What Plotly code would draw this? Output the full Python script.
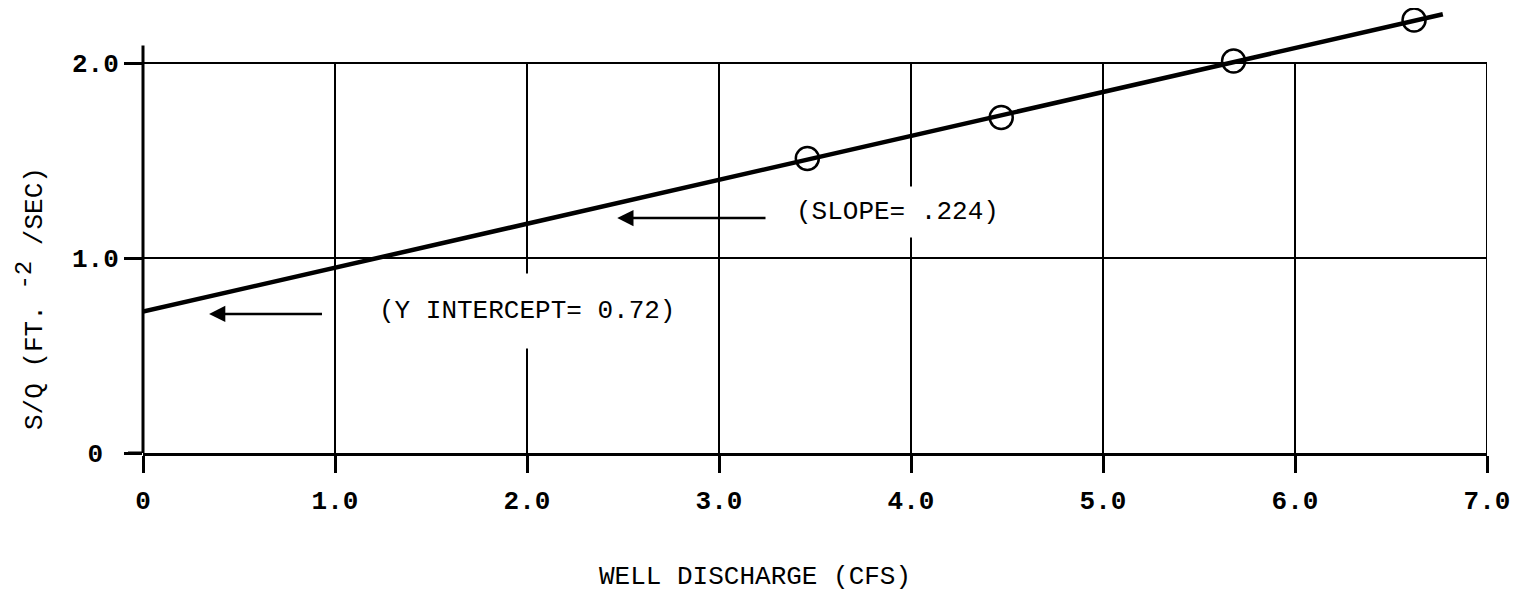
import plotly.graph_objects as go

# ---- data ----
well_discharge = [3.46, 4.47, 5.68, 6.62]      # CFS
s_over_q = [1.51, 1.72, 2.01, 2.22]            # FT^-2/SEC

fit_x = [0.0, 6.77]
fit_y = [0.725, 2.25]

x_ticks = [0, 1, 2, 3, 4, 5, 6, 7]
x_tick_labels = ["0", "1.0", "2.0", "3.0", "4.0", "5.0", "6.0", "7.0"]
y_ticks = [0, 1, 2]
y_tick_labels = ["0\u00a0", "1.0", "2.0"]

slope_label = "(SLOPE= .224)"
intercept_label = "(Y INTERCEPT= 0.72)"
x_title = "WELL DISCHARGE (CFS)"
y_title = "S/Q (FT. <sup><span style='font-size:24px'>-2</span></sup> /SEC)"

FONT = "Liberation Mono"
INK = "#000000"

# page body has an 8px margin; figure is sized to fit the 1520x599 window exactly
W, H = 1504, 583
PL, PW = 135, 1344          # plot-area left and width (x=0 .. x=7)
PT, PH = 0, 445             # plot-area top and height
PX_PER_Y = 195.0

fig = go.Figure()

fig.add_trace(go.Scatter(
    x=fit_x, y=fit_y, mode="lines",
    line=dict(color=INK, width=4.5), showlegend=False, hoverinfo="skip"))

fig.add_trace(go.Scatter(
    x=well_discharge, y=s_over_q, mode="markers",
    marker=dict(symbol="circle-open", size=23, color=INK, line=dict(width=2.5, color=INK)),
    showlegend=False, cliponaxis=False))

shapes = []
# vertical grid lines (stop at top grid value)
for xv in x_ticks[1:]:
    shapes.append(dict(type="line", xref="x", yref="y", x0=xv, x1=xv,
                       y0=y_ticks[0], y1=y_ticks[-1], line=dict(color=INK, width=2),
                       layer="below"))
# y axis line extending a little above the top grid
shapes.append(dict(type="line", xref="paper", yref="y", x0=0, x1=0,
                   y0=0, y1=2.09, line=dict(color=INK, width=3)))
# short extension of x axis line to the left
shapes.append(dict(type="line", xref="paper", yref="y", x0=-15 / PW, x1=0,
                   y0=0, y1=0, line=dict(color=INK, width=3)))

annotations = [
    dict(x=3.93, y=1.236, xref="x", yref="y", text=slope_label, showarrow=False,
         xanchor="center", yanchor="middle", bgcolor="white", borderpad=10,
         font=dict(family=FONT, size=26, color=INK)),
    dict(x=2.0, y=0.728, xref="x", yref="y", text=intercept_label, showarrow=False,
         xanchor="center", yanchor="middle", bgcolor="white", borderpad=22,
         font=dict(family=FONT, size=26, color=INK)),
    # arrows
    dict(x=2.47, y=1.205, ax=3.25, ay=1.205, xref="x", yref="y", axref="x", ayref="y",
         text="", showarrow=True, arrowhead=2, arrowsize=1.3, arrowwidth=2.5,
         arrowcolor=INK, standoff=0, startstandoff=0),
    dict(x=0.344, y=0.713, ax=0.94, ay=0.713, xref="x", yref="y", axref="x", ayref="y",
         text="", showarrow=True, arrowhead=2, arrowsize=1.3, arrowwidth=2.5,
         arrowcolor=INK, standoff=0, startstandoff=0),
    # axis titles
    dict(x=(755 - 143) / PW, y=(453 - 577) / PH, xref="paper", yref="paper",
         text=x_title, showarrow=False, xanchor="center", yanchor="middle",
         font=dict(family=FONT, size=26, color=INK)),
    dict(x=(30 - 143) / PW, y=(453 - 298) / PH, xref="paper", yref="paper",
         text=y_title, showarrow=False, textangle=-90, xanchor="center", yanchor="middle",
         font=dict(family=FONT, size=26, color=INK)),
]

fig.update_layout(
    width=W, height=H,
    margin=dict(l=PL, r=W - PL - PW, t=PT, b=H - PT - PH, pad=0),
    paper_bgcolor="white", plot_bgcolor="white",
    shapes=shapes, annotations=annotations,
    xaxis=dict(range=[0, 7], tickvals=x_ticks, ticktext=x_tick_labels,
               showgrid=False, zeroline=False, showline=True, linecolor=INK, linewidth=3,
               ticks="outside", ticklen=17, tickwidth=3, tickcolor=INK,
               ticklabelstandoff=5,
               tickfont=dict(family=FONT, size=26, color=INK, weight="bold")),
    yaxis=dict(range=[0, PH / PX_PER_Y], tickvals=y_ticks, ticktext=y_tick_labels,
               showgrid=True, gridcolor=INK, gridwidth=2, zeroline=False, showline=False,
               ticks="outside", ticklen=18, tickwidth=3, tickcolor=INK,
               ticklabelstandoff=0,
               tickfont=dict(family=FONT, size=26, color=INK, weight="bold")),
    font=dict(family=FONT, color=INK),
)

fig.write_html("out.html")
